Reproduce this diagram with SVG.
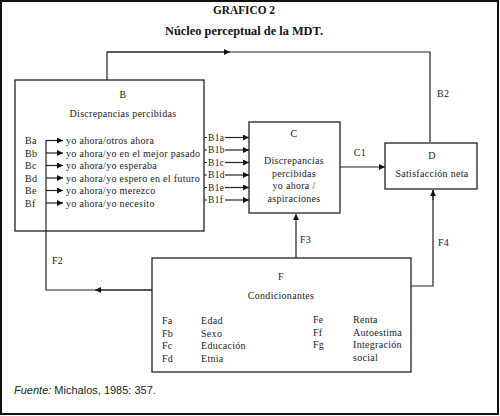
<svg xmlns="http://www.w3.org/2000/svg" width="500" height="416" viewBox="0 0 500 416">
<defs>
<marker id="ah" viewBox="0 0 10 10" refX="10" refY="5" markerWidth="7" markerHeight="6" markerUnits="userSpaceOnUse" orient="auto"><path d="M0,0 L10,5 L0,10 z" fill="#111"/></marker>
<style>
.t{font-family:"Liberation Serif",serif;font-size:10px;fill:#222;letter-spacing:0.3px}
.c{text-anchor:middle}
.h{font-family:"Liberation Serif",serif;font-weight:bold;font-size:13px;fill:#111;text-anchor:middle}
.box{fill:#fff;stroke:#222;stroke-width:1.3}
.ln{fill:none;stroke:#222;stroke-width:1.2}
.f{font-family:"Liberation Sans",sans-serif;font-size:11px;fill:#222}
</style>
</defs>
<rect x="1" y="1" width="497" height="413" fill="#fff" stroke="#111" stroke-width="2"/>
<text class="h" x="244" y="14" textLength="62" lengthAdjust="spacingAndGlyphs">GRAFICO 2</text>
<text class="h" x="244" y="35" textLength="158" lengthAdjust="spacingAndGlyphs">Núcleo perceptual de la MDT.</text>

<g id="connectors">
<polyline class="ln" points="107,80 107,52 430,52 430,142"/>
<path class="ln" d="M107,52 H230" marker-end="url(#ah)"/>
<path class="ln" d="M340,167 H385" marker-end="url(#ah)"/>
<path class="ln" d="M296,258 V214" marker-end="url(#ah)"/>
<polyline class="ln" points="411,286 433,286 433,190"/>
<path class="ln" d="M433,200 V190" marker-end="url(#ah)"/>
<polyline class="ln" points="152,290 46,290 46,140"/>
<path class="ln" d="M152,290 H95" marker-end="url(#ah)"/>
<text class="t" x="437" y="97">B2</text>
<text class="t" x="360" y="156" class2="c" text-anchor="middle">C1</text>
<text class="t" x="300" y="243">F3</text>
<text class="t" x="438" y="246">F4</text>
<text class="t" x="52" y="264">F2</text>
</g>

<g id="B">
<rect class="box" x="15" y="80" width="189" height="151"/>
<text class="t c" x="123" y="98">B</text>
<text class="t c" x="123" y="117">Discrepancias percibidas</text>
<g class="t">
<text x="25" y="144">Ba</text>
<text x="25" y="156.5">Bb</text>
<text x="25" y="169">Bc</text>
<text x="25" y="181.5">Bd</text>
<text x="25" y="194">Be</text>
<text x="25" y="206.5">Bf</text>
<text x="66" y="144">yo ahora/otros ahora</text>
<text x="66" y="156.5">yo ahora/yo en el mejor pasado</text>
<text x="66" y="169">yo ahora/yo esperaba</text>
<text x="66" y="181.5">yo ahora/yo espero en el futuro</text>
<text x="66" y="194">yo ahora/yo merezco</text>
<text x="66" y="206.5">yo ahora/yo necesito</text>
</g>
<line class="ln" x1="46" y1="140" x2="46" y2="231"/>
<path class="ln" d="M46,140.5 H63" marker-end="url(#ah)"/>
<path class="ln" d="M46,153 H63" marker-end="url(#ah)"/>
<path class="ln" d="M46,165.5 H63" marker-end="url(#ah)"/>
<path class="ln" d="M46,178 H63" marker-end="url(#ah)"/>
<path class="ln" d="M46,190.5 H63" marker-end="url(#ah)"/>
<path class="ln" d="M46,203 H63" marker-end="url(#ah)"/>
</g>

<g id="B1">
<g class="t" style="font-size:9.5px">
<text x="208" y="140.5">B1a</text>
<text x="208" y="153">B1b</text>
<text x="208" y="165.5">B1c</text>
<text x="208" y="178">B1d</text>
<text x="208" y="190.5">B1e</text>
<text x="208" y="203">B1f</text>
</g>
<path class="ln" d="M204,137.5 H207 M204,150 H207 M204,162.5 H207 M204,175 H207 M204,187.5 H207 M204,200 H207"/>
<path class="ln" d="M225,137.5 H249" marker-end="url(#ah)"/>
<path class="ln" d="M225,150 H249" marker-end="url(#ah)"/>
<path class="ln" d="M225,162.5 H249" marker-end="url(#ah)"/>
<path class="ln" d="M225,175 H249" marker-end="url(#ah)"/>
<path class="ln" d="M225,187.5 H249" marker-end="url(#ah)"/>
<path class="ln" d="M225,200 H249" marker-end="url(#ah)"/>
</g>

<g id="C">
<rect class="box" x="249" y="122" width="91" height="91"/>
<text class="t c" x="294" y="137">C</text>
<text class="t c" x="294" y="164">Discrepancias</text>
<text class="t c" x="294" y="177">percibidas</text>
<text class="t c" x="294" y="189">yo ahora /</text>
<text class="t c" x="294" y="202">aspiraciones</text>
</g>

<g id="D">
<rect class="box" x="385" y="143" width="92" height="46"/>
<text class="t c" x="432" y="159">D</text>
<text class="t c" x="432" y="177">Satisfacción neta</text>
</g>

<g id="F">
<rect class="box" x="152" y="258" width="259" height="114"/>
<text class="t c" x="281" y="280">F</text>
<text class="t c" x="281" y="299">Condicionantes</text>
<g class="t">
<text x="162" y="324">Fa</text>
<text x="162" y="336.5">Fb</text>
<text x="162" y="349">Fc</text>
<text x="162" y="361.5">Fd</text>
<text x="201" y="324">Edad</text>
<text x="201" y="336.5">Sexo</text>
<text x="201" y="349">Educación</text>
<text x="201" y="361.5">Etnia</text>
<text x="313" y="323">Fe</text>
<text x="313" y="335.5">Ff</text>
<text x="313" y="348">Fg</text>
<text x="353" y="323">Renta</text>
<text x="353" y="335.5">Autoestima</text>
<text x="353" y="348">Integración</text>
<text x="353" y="360.5">social</text>
</g>
</g>

<text class="f" x="14" y="394"><tspan font-style="italic">Fuente:</tspan> Michalos, 1985: 357.</text>
</svg>
